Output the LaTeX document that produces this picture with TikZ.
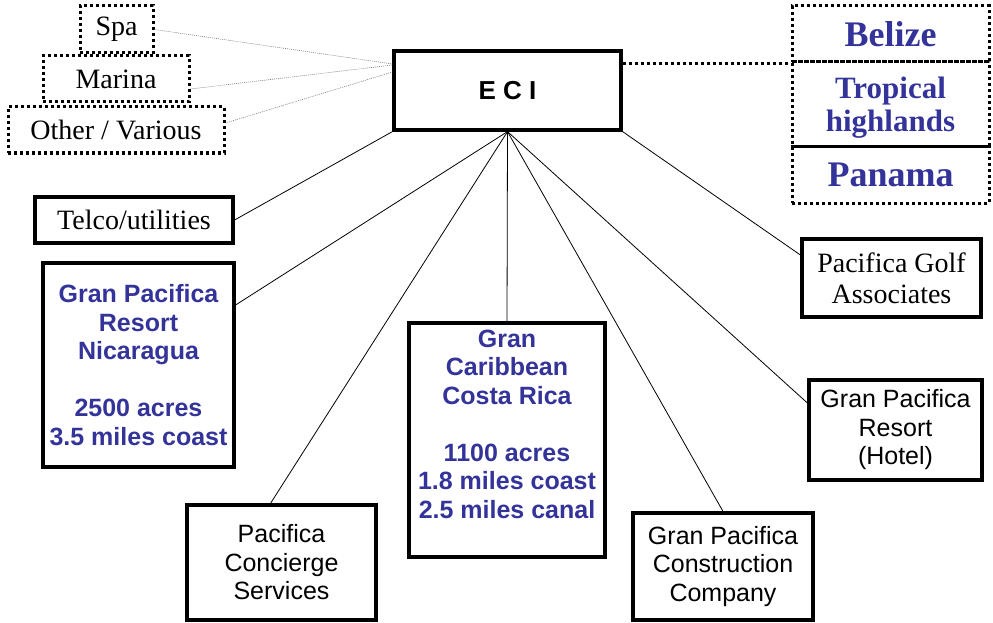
\documentclass[tikz,border=0pt]{standalone}
\usepackage{fontspec}
\setmainfont{Liberation Serif}
\setsansfont{Liberation Sans}
\definecolor{eciblue}{RGB}{51,51,153}
\tikzset{
    solidbox/.style={draw, line width=3.2pt, inner sep=0pt, align=center},
    dotbox/.style={draw, line width=3pt, dash pattern=on 3pt off 3pt, inner sep=0pt, align=center},
    serif/.style={font=\fontsize{28}{31}\selectfont},
    sans/.style={font=\fontsize{25}{28.5}\selectfont\sffamily},
    bluesans/.style={font=\fontsize{25}{28.5}\selectfont\sffamily\bfseries, text=eciblue},
    bigblue/.style={font=\fontsize{36}{38}\selectfont\bfseries, text=eciblue},
    link/.style={line width=0.8pt},
    faint/.style={gray, line width=0.6pt, dash pattern=on 1pt off 1pt}
}
\begin{document}
\begin{tikzpicture}[x=1pt,y=-1pt]
        \useasboundingbox (0,0) rectangle (993,623);
        % left side, dotted
        \node[dotbox, serif, minimum width=73pt, minimum height=47pt] (spa) at (116.5,29.5) {Spa};
        \node[dotbox, serif, minimum width=146pt, minimum height=46pt] (marina) at (116,79) {Marina};
        \node[dotbox, serif, minimum width=216pt, minimum height=46pt] (other) at (116,130) {Other / Various};
        % top
        \node[solidbox, minimum width=227pt, minimum height=79pt, font=\fontsize{26}{28}\selectfont\sffamily\bfseries] (eci) at (507.5,90.5) {E~C~I};
        % right side, dotted
        \node[dotbox, bigblue, minimum width=197pt, minimum height=56pt] (belize) at (890.5,34) {Belize};
        \node[dotbox, bigblue, font=\fontsize{31}{33}\selectfont\bfseries, minimum width=197pt, minimum height=85pt, text depth=0pt] (tropical) at (890.5,104.5) {Tropical\\highlands};
        \node[dotbox, bigblue, minimum width=197pt, minimum height=56pt] (panama) at (890.5,175) {Panama};
        % companies
        \node[solidbox, serif, minimum width=198pt, minimum height=46pt] (telco) at (134,220) {Telco/utilities};
        \node[solidbox, bluesans, minimum width=191pt, minimum height=204pt] (nica) at (138.5,365) {Gran Pacifica\\Resort\\Nicaragua\\[28.5pt]2500 acres\\3.5 miles coast};
        \node[solidbox, bluesans, minimum width=196pt, minimum height=234pt, text depth=32pt] (costa) at (507,440) {Gran\\Caribbean\\Costa Rica\\[28.5pt]1100 acres\\1.8 miles coast\\2.5 miles canal};
        \node[solidbox, sans, minimum width=189pt, minimum height=115pt] (concierge) at (281.5,562.5) {Pacifica\\Concierge\\Services};
        \node[solidbox, sans, minimum width=180pt, minimum height=107pt] (construction) at (723,566.5) {Gran Pacifica\\Construction\\Company};
        \node[solidbox, sans, minimum width=173pt, minimum height=100pt] (hotel) at (895.5,430) {Gran Pacifica\\Resort\\(Hotel)};
        \node[solidbox, serif, minimum width=179pt, minimum height=78pt] (golf) at (891.5,278) {Pacifica Golf\\Associates};
        % connectors
        \draw[faint] (spa.east) -- ([yshift=26.5pt]eci.west);
        \draw[faint] ([yshift=-10pt]marina.east) -- ([yshift=25.5pt]eci.west);
        \draw[faint] ([yshift=7pt]other.east) -- ([yshift=18.5pt]eci.west);
        \draw[line width=3pt, dash pattern=on 3pt off 3pt] ([yshift=26.5pt]eci.east) -- ([yshift=26.5pt]eci.east -| tropical.west);
        \draw[link] (telco.east) -- (eci.south west);
        \draw[link] ([yshift=23pt]golf.west) -- (eci.south east);
        \draw[link] ([yshift=60pt]nica.east) -- (eci.south);
        \draw[link] ([xshift=-11pt]concierge.north) -- (eci.south);
        \draw[link] (costa.north) -- (eci.south);
        \draw[link] (construction.north) -- (eci.south);
        \draw[link] ([yshift=27pt]hotel.west) -- (eci.south);
\end{tikzpicture}
\end{document}
